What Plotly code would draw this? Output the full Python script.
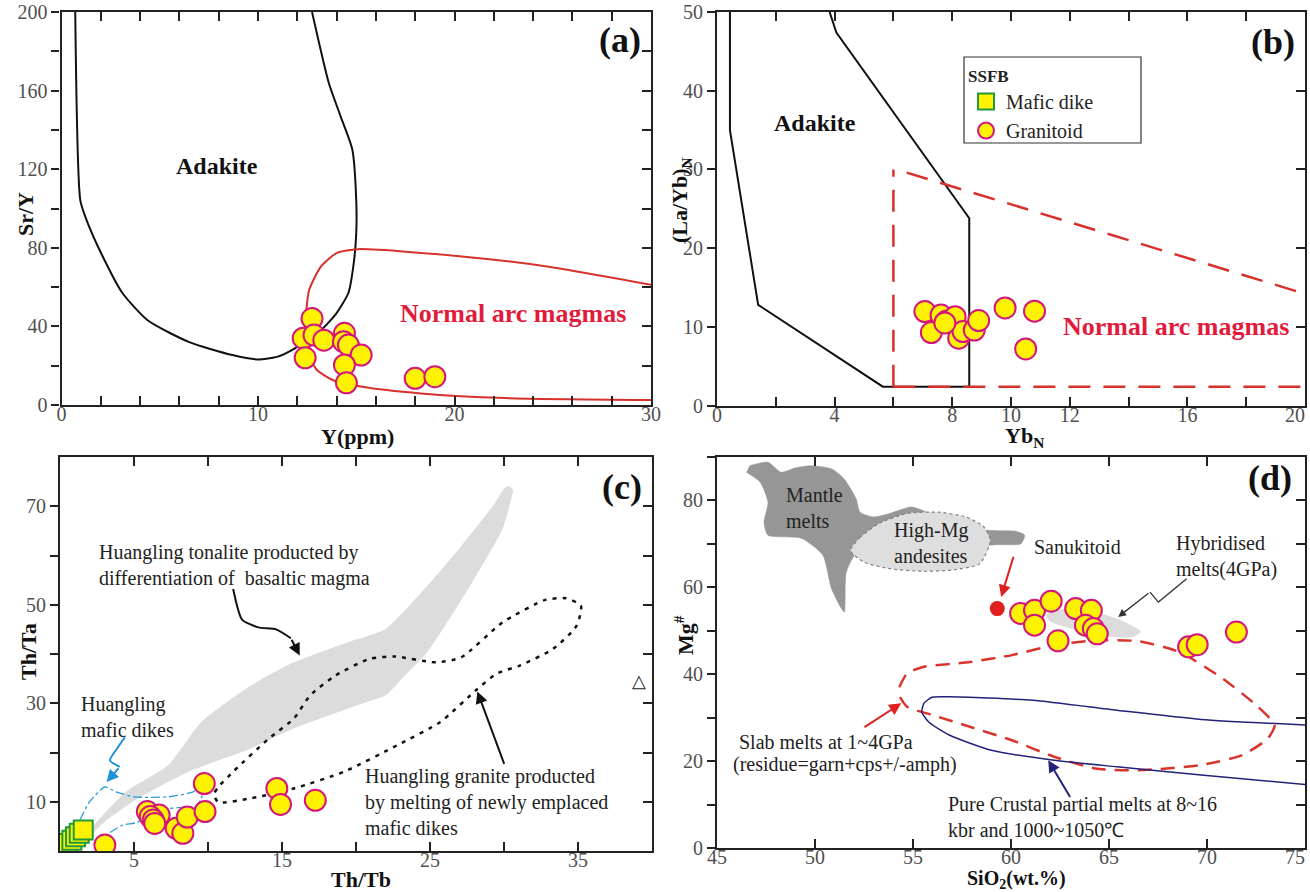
import plotly.graph_objects as go

W, H = 1310, 892
SERIF = "Liberation Serif, Times New Roman, serif"
YELLOW = "#fff200"
MAGENTA = "#d4157d"
GREEN = "#1e9a3c"
RED = "#d8302a"
CRIMSON = "#e21b3c"
TXT = "#222222"

# ---------------- Panel (a): Sr/Y vs Y ----------------
A_ADAKITE_X = [0.7, 0.96, 1.28, 2.03, 3.1, 4.4, 6.5, 8.7, 10.0, 11.0, 11.9, 13.2, 14.0, 14.6, 14.85, 15.0, 15.0, 14.8, 14.2, 13.6, 12.75]
A_ADAKITE_Y = [200, 104, 94, 77, 57, 43, 32, 25.4, 23.2, 24.6, 29, 38, 46.8, 57, 70.4, 87.5, 104, 130, 147, 164, 200]
A_ARC_X = [30.5, 24.8, 20.5, 15.1, 14.0, 13.2, 12.6, 12.45, 12.4, 12.6, 13.0, 13.8, 15.3, 18.3, 22.6, 30.5]
A_ARC_Y = [60.3, 70.4, 75.5, 79.3, 77.3, 70.4, 58.5, 46.8, 35, 25, 17.8, 12.7, 9.3, 5.9, 3.5, 2.5]
A_GR_X = [12.75, 12.3, 12.85, 13.35, 12.4, 14.4, 14.35, 14.6, 15.25, 14.4, 14.5, 18.0, 19.0]
A_GR_Y = [44, 34, 35.6, 33, 24, 36.5, 32.2, 30.5, 25.4, 20.4, 11.3, 13.6, 14.4]
A_XTICKS = list(range(0, 31, 2))
A_XLABELS = [0, 10, 20, 30]
A_YTICKS = list(range(0, 201, 20))
A_YLABELS = [0, 40, 80, 120, 160, 200]

# ---------------- Panel (b): (La/Yb)N vs YbN ----------------
B_ADAKITE_X = [0.44, 0.44, 1.4, 5.64, 8.58, 8.58, 4.06, 3.83]
B_ADAKITE_Y = [50, 35, 12.8, 2.4, 2.4, 23.8, 47.4, 50]
B_ARC_X = [6.0, 6.0, None, 6.45, 20.0, None, 6.0, 20.0]
B_ARC_Y = [2.4, 30.0, None, 29.6, 14.2, None, 2.4, 2.4]
B_GR_X = [7.07, 7.29, 7.62, 7.8, 8.1, 8.24, 8.22, 8.37, 8.75, 8.9, 9.8, 10.8, 10.5, 7.75]
B_GR_Y = [11.95, 9.28, 11.5, 10.7, 11.3, 9.2, 8.56, 9.4, 9.6, 10.8, 12.4, 12.0, 7.2, 10.5]
B_XTICKS = list(range(0, 21, 2))
B_XLABELS = [0, 4, 8, 10, 12, 16, 20]
B_YTICKS = list(range(0, 51, 10))
B_YLABELS = [0, 10, 20, 30, 40, 50]

# ---------------- Panel (c): Th/Ta vs Th/Tb ----------------
C_TON_X = [1.47, 4.45, 7.3, 9.55, 12.9, 15.8, 19.45, 22.0, 24.8, 27.1, 29.4, 29.95, 30.3, 30.6, 30.4, 29.9, 27.7, 24.8, 23.1, 22.0, 20.0, 15.8, 12.9, 8.7, 5.3, 3.0, 1.9]
C_TON_Y = [2.6, 12.0, 17.4, 26.2, 33.6, 38.3, 42.4, 45.1, 53.8, 61.9, 70.7, 73.4, 74.1, 73.4, 70.5, 65.4, 53.8, 40.3, 35.0, 31.6, 29.5, 24.9, 20.8, 16.1, 10.7, 5.9, 2.6]
C_GRANITE_X = [10.7, 11.8, 14.1, 15.8, 16.9, 18.6, 20.9, 22.6, 25.4, 27.1, 29.9, 32.8, 34.2, 35.2, 34.9, 33.3, 31.1, 29.5, 28.2, 25.7, 22.8, 19.2, 15.8, 12.9, 10.7, 10.4, 10.7]
C_GRANITE_Y = [13.0, 16.4, 22.8, 26.9, 31.6, 35.6, 39.0, 39.5, 38.3, 39.3, 46.4, 51.0, 51.3, 49.8, 45.7, 41.0, 37.7, 36.0, 32.9, 26.2, 21.5, 16.1, 12.7, 10.7, 9.9, 11.5, 13.0]
C_DIKEFIELD_X = [1.35, 2.0, 3.03, 3.8, 5.0, 7.3, 9.0, 9.6, 9.75, 9.5, 9.2, 8.0, 7.0, 6.0, 5.2, 4.2, 3.1, 2.7]
C_DIKEFIELD_Y = [6.3, 10.0, 13.0, 12.0, 11.0, 11.0, 12.0, 13.5, 12.5, 10.5, 9.0, 8.8, 8.5, 7.5, 5.8, 5.2, 3.2, 2.2]
C_BLUE_ARROW_X = [4.38, 3.9, 3.37, 4.04]
C_BLUE_ARROW_Y = [23.1, 21.0, 18.4, 17.1]
C_BLACK_ARROW_X = [11.7, 12.3, 13.4, 14.6, 15.6]
C_BLACK_ARROW_Y = [53.2, 47.0, 45.4, 45.0, 43.2]
C_DIKE_X = [0.22, 0.5, 0.8, 1.05, 1.3, 1.57]
C_DIKE_Y = [0.9, 1.5, 2.2, 2.9, 3.6, 4.25]
C_GR_X = [3.03, 5.9, 6.7, 6.1, 6.3, 6.4, 7.85, 8.3, 8.6, 9.75, 9.8, 14.65, 14.9, 17.25]
C_GR_Y = [1.2, 8.0, 7.3, 7.0, 6.3, 5.6, 4.6, 3.6, 6.9, 13.7, 8.0, 12.7, 9.45, 10.3]
C_XTICKS = list(range(5, 40, 5))
C_XLABELS = [5, 15, 25, 35]
C_YTICKS = list(range(10, 80, 10))
C_YLABELS = [10, 30, 50, 70]

# ---------------- Panel (d): Mg# vs SiO2 ----------------
D_MANTLE_X = [46.66, 47.6, 48.27, 49.0, 49.77, 50.84, 51.48, 52.1, 52.3, 53.0, 53.8, 54.9, 55.6, 56.5, 59.0, 60.26, 60.7, 60.5, 59.2, 56.0, 52.3, 51.6, 51.5, 51.3, 50.84, 50.4, 49.3, 47.6, 47.4, 47.6, 47.2, 46.5]
D_MANTLE_Y = [88.0, 88.8, 86.5, 87.5, 88.0, 87.3, 85.0, 80.4, 77.3, 76.2, 77.0, 78.5, 77.5, 74.0, 73.1, 72.9, 72.0, 70.0, 69.8, 68.0, 68.9, 63.5, 54.3, 55.5, 59.7, 67.4, 71.3, 72.0, 75.0, 79.6, 84.2, 86.5]
D_HMA_X = [51.8, 52.3, 53.3, 54.7, 56.3, 57.7, 58.6, 58.95, 58.4, 57.0, 55.5, 53.8, 52.5, 51.8]
D_HMA_Y = [68.5, 71.5, 74.8, 77.0, 77.3, 76.2, 74.0, 70.8, 65.4, 64.0, 63.7, 64.3, 65.8, 68.5]
D_HYB_X = [61.8, 62.6, 64.0, 65.6, 66.6, 66.2, 64.8, 63.0, 62.0, 61.8]
D_HYB_Y = [53.5, 55.0, 54.6, 52.4, 49.8, 48.6, 48.8, 50.6, 52.2, 53.5]
D_SLAB_X = [54.3, 54.7, 55.56, 57.9, 60.05, 62.2, 64.34, 66.5, 68.6, 70.8, 72.5, 73.45, 73.1, 71.8, 69.7, 66.5, 64.3, 62.2, 60.05, 57.9, 56.0, 54.7, 54.3]
D_SLAB_Y = [37.0, 40.2, 41.7, 42.8, 44.4, 46.7, 47.8, 47.6, 45.1, 39.0, 32.9, 28.3, 25.2, 21.4, 19.1, 17.9, 18.3, 21.0, 24.8, 27.9, 30.6, 32.5, 35.0]
D_CRUST_X = [75.5, 69.7, 65.4, 61.1, 56.85, 55.97, 55.56, 55.45, 55.8, 56.85, 59.0, 62.2, 65.4, 69.7, 75.5]
D_CRUST_Y = [28.2, 29.6, 31.7, 34.0, 34.8, 34.7, 33.3, 31.3, 29.0, 26.0, 22.5, 20.2, 18.7, 16.8, 14.4]
D_SANUK_X = [59.3]
D_SANUK_Y = [55.1]
D_SQUIG_X = [68.96, 67.52, 67.09]
D_SQUIG_Y = [62.0, 56.6, 58.9]
D_GR_X = [60.49, 61.2, 61.2, 62.05, 62.4, 63.3, 64.1, 63.8, 64.2, 64.4, 69.06, 69.5, 71.5]
D_GR_Y = [54.0, 54.7, 51.3, 56.8, 47.7, 55.1, 54.7, 51.3, 50.5, 49.3, 46.3, 46.8, 49.7]
D_XTICKS = list(range(45, 76, 5))
D_XLABELS = D_XTICKS
D_YTICKS = list(range(0, 91, 10))
D_YLABELS = [0, 20, 40, 60, 80]


def px_x(p):
    return p / W


def px_y(p):
    return 1 - p / H


DOM = {
    1: ([px_x(61.5), px_x(651)], [px_y(405), px_y(12)], [0, 30], [0, 200]),
    2: ([px_x(717), px_x(1305)], [px_y(405.6), px_y(12)], [0, 20], [0, 50]),
    3: ([px_x(60), px_x(652)], [px_y(851), px_y(457)], [0, 40], [0, 80]),
    4: ([px_x(717), px_x(1305)], [px_y(848), px_y(457)], [45, 75], [0, 90]),
}

TICKFONT = dict(family=SERIF, size=20, color="#505050")

TICKS = {
    1: (A_XTICKS, A_XLABELS, A_YTICKS, A_YLABELS),
    2: (B_XTICKS, B_XLABELS, B_YTICKS, B_YLABELS),
    3: (C_XTICKS, C_XLABELS, C_YTICKS, C_YLABELS),
    4: (D_XTICKS, D_XLABELS, D_YTICKS, D_YLABELS),
}

fig = go.Figure()


def ax(n):
    return ("x" if n == 1 else f"x{n}"), ("y" if n == 1 else f"y{n}")


def line(n, x, y, color, width=2, dash=None, fill=None, fillcolor=None, shape="spline"):
    xa, ya = ax(n)
    fig.add_trace(go.Scatter(x=x, y=y, xaxis=xa, yaxis=ya, mode="lines",
                             line=dict(color=color, width=width, dash=dash, shape=shape, smoothing=0.6),
                             fill=fill, fillcolor=fillcolor, showlegend=False, hoverinfo="skip"))


def granitoid(n, x, y, show=False):
    xa, ya = ax(n)
    fig.add_trace(go.Scatter(x=x, y=y, xaxis=xa, yaxis=ya, mode="markers", name="Granitoid",
                             marker=dict(symbol="circle", size=21, color=YELLOW,
                                         line=dict(color=MAGENTA, width=2)),
                             showlegend=show, legendrank=2))


# (a)
line(1, A_ADAKITE_X, A_ADAKITE_Y, "#111111", 2)
line(1, A_ARC_X, A_ARC_Y, RED, 2)
granitoid(1, A_GR_X, A_GR_Y)

# (b)
line(2, B_ADAKITE_X, B_ADAKITE_Y, "#111111", 2, shape="linear")
line(2, B_ARC_X, B_ARC_Y, RED, 2.5, dash="22px,13px", shape="linear")
granitoid(2, B_GR_X, B_GR_Y)

# (c)
line(3, C_TON_X, C_TON_Y, "rgba(0,0,0,0)", 0, fill="toself", fillcolor="#dcdcdc")
line(3, C_GRANITE_X, C_GRANITE_Y, "#111111", 2.5, dash="4px,6px")
line(3, C_DIKEFIELD_X, C_DIKEFIELD_Y, "#2b9bd8", 1.3, dash="dashdot")
line(3, C_BLUE_ARROW_X, C_BLUE_ARROW_Y, "#1e90d8", 2)
line(3, C_BLACK_ARROW_X, C_BLACK_ARROW_Y, "#111111", 2)
fig.add_trace(go.Scatter(x=C_DIKE_X, y=C_DIKE_Y, xaxis="x3", yaxis="y3", mode="markers", name="Mafic dike",
                         marker=dict(symbol="square", size=19, color=YELLOW, line=dict(color=GREEN, width=2)),
                         showlegend=True, legendrank=1))
granitoid(3, C_GR_X, C_GR_Y, show=True)

# (d)
line(4, D_MANTLE_X, D_MANTLE_Y, "#969696", 0.5, fill="toself", fillcolor="#969696")
line(4, D_HMA_X, D_HMA_Y, "#808080", 1.2, dash="dot", fill="toself", fillcolor="#dedede")
line(4, D_HYB_X, D_HYB_Y, "#dcdcdc", 0.5, fill="toself", fillcolor="#dcdcdc")
line(4, D_SLAB_X, D_SLAB_Y, "#d9342c", 2.5, dash="14px,9px")
line(4, D_CRUST_X, D_CRUST_Y, "#22227a", 1.5)
line(4, D_SQUIG_X, D_SQUIG_Y, "#333333", 1.3, shape="linear")
fig.add_trace(go.Scatter(x=D_SANUK_X, y=D_SANUK_Y, xaxis="x4", yaxis="y4", mode="markers",
                         marker=dict(size=15, color="#e0201e"), showlegend=False))
granitoid(4, D_GR_X, D_GR_Y)

# dummy traces for the right-side tick axes
for n in range(1, 5):
    xa, _ = ax(n)
    fig.add_trace(go.Scatter(x=[None], y=[None], xaxis=xa, yaxis=f"y{n + 4}", showlegend=False, hoverinfo="skip"))


def xlabel_text(vals, right_edge):
    # last label sits at the figure edge: pad it so it stays inside the page
    out = [str(v) for v in vals]
    if right_edge:
        out[-1] = out[-1] + "\u2002\u2002"
    return out


layout = dict(width=W, height=H, margin=dict(l=0, r=0, t=0, b=0), paper_bgcolor="white",
              plot_bgcolor="white", font=dict(family=SERIF, color=TXT))
for n in range(1, 5):
    xd, yd, xr, yr = DOM[n]
    xt, xl, yt, yl = TICKS[n]
    xa, ya = ax(n)
    xkey = "xaxis" if n == 1 else f"xaxis{n}"
    ykey = "yaxis" if n == 1 else f"yaxis{n}"
    layout[xkey] = dict(domain=xd, range=xr, anchor=ya, tickmode="array", tickvals=xl,
                        ticktext=xlabel_text(xl, n in (2, 4)),
                        ticks="inside", ticklen=9, tickwidth=1.5, tickcolor="#222", showline=True,
                        linecolor="#222", linewidth=2.2, mirror="ticks", showgrid=False, zeroline=False,
                        minor=dict(tickmode="array", tickvals=xt, ticks="inside", ticklen=9, tickwidth=1.5,
                                   tickcolor="#222", showgrid=False),
                        ticklabelstandoff=-10, ticklabeloverflow="allow",
                        tickfont=TICKFONT, automargin=False, fixedrange=True)
    layout[ykey] = dict(domain=yd, range=yr, anchor=xa, tickmode="array", tickvals=yl,
                        ticktext=[str(v) for v in yl],
                        ticks="outside", ticklen=8, tickwidth=1.5, tickcolor="#222", showline=True,
                        linecolor="#222", linewidth=2.2, mirror=True, showgrid=False, zeroline=False,
                        minor=dict(tickmode="array", tickvals=yt, ticks="outside", ticklen=8, tickwidth=1.5,
                                   tickcolor="#222", showgrid=False),
                        ticklabeloverflow="allow",
                        tickfont=TICKFONT, automargin=False, fixedrange=True)
    layout[f"yaxis{n + 4}"] = dict(overlaying=ya, side="right", anchor=xa, range=yr, tickmode="array",
                                   tickvals=yt, ticks="inside", ticklen=9, tickwidth=1.5, tickcolor="#222",
                                   showticklabels=False, showline=False, showgrid=False, zeroline=False,
                                   automargin=False, fixedrange=True)

ann = []


def txt(n, x, y, text, size=20, color=TXT, bold=False, xanchor="center", yanchor="middle"):
    xa, ya = ax(n)
    ann.append(dict(x=x, y=y, xref=xa, yref=ya, text=text, showarrow=False, xanchor=xanchor,
                    yanchor=yanchor, align="left",
                    font=dict(family=SERIF, size=size, color=color, weight="bold" if bold else "normal")))


def ptxt(px, py, text, size=22, angle=0, bold=True):
    ann.append(dict(x=px_x(px), y=px_y(py), xref="paper", yref="paper", text=text, showarrow=False,
                    textangle=angle, xanchor="center", yanchor="middle",
                    font=dict(family=SERIF, size=size, color="#111", weight="bold" if bold else "normal")))


def arrow(n, tail, tip, color, width=1.8, head=2, size=1.2):
    xa, ya = ax(n)
    ann.append(dict(x=tip[0], y=tip[1], ax=tail[0], ay=tail[1], xref=xa, yref=ya, axref=xa, ayref=ya,
                    text="", showarrow=True, arrowhead=head, arrowsize=size, arrowwidth=width,
                    arrowcolor=color))


# panel labels
ptxt(620, 40, "(a)", 36)
ptxt(1273, 42, "(b)", 36)
ptxt(622, 487, "(c)", 36)
ptxt(1270, 478, "(d)", 36)

# axis titles
ptxt(357, 436, "Y(ppm)", 22)
ptxt(25, 214, "Sr/Y", 22, angle=-90)
ptxt(1024, 437, "Yb<sub>N</sub>", 22)
ptxt(681, 200, "(La/Yb)<sub>N</sub>", 22, angle=-90)
ptxt(361, 879, "Th/Tb", 22)
ptxt(28, 652, "Th/Ta", 22, angle=-90)
ptxt(1016, 879, "SiO<sub>2</sub>(wt.%)", 20)
ptxt(684, 635, "Mg<sup>#</sup>", 22, angle=-90)

# (a) texts
txt(1, 7.9, 121.8, "Adakite", 24, "#111", True)
txt(1, 23.0, 46.7, "Normal arc magmas", 26, CRIMSON, True)
# (b) texts
txt(2, 3.34, 35.9, "Adakite", 24, "#111", True)
txt(2, 15.6, 10.0, "Normal arc magmas", 26, CRIMSON, True)
# (c) texts
txt(3, 2.5, 58.0, "Huangling tonalite producted by<br>differentiation of&nbsp; basaltic magma", 20, xanchor="left")
txt(3, 1.28, 27.3, "Huangling<br>mafic dikes", 20, xanchor="left")
txt(3, 20.5, 9.9, "Huangling granite producted<br>by melting of newly emplaced<br>mafic dikes", 20, xanchor="left")
txt(3, 39.1, 34.6, "△", 18, "#222")
arrow(3, (C_BLUE_ARROW_X[-1], C_BLUE_ARROW_Y[-1]), (3.15, 14.0), "#1e90d8", 2)
arrow(3, (C_BLACK_ARROW_X[-1], C_BLACK_ARROW_Y[-1]), (16.2, 39.7), "#111", 2)
arrow(3, (30.05, 17.4), (28.2, 32.4), "#111", 2)
# (d) texts
txt(4, 48.4, 78.2, "Mantle<br>melts", 20, xanchor="left")
txt(4, 55.9, 70.2, "High-Mg<br>andesites", 20)
txt(4, 63.4, 69.3, "Sanukitoid", 20)
txt(4, 68.3, 67.0, "Hybridised<br>melts(4GPa)", 20, xanchor="left")
txt(4, 46.0, 24.4, "Slab melts at 1~4GPa", 20, xanchor="left")
txt(4, 45.7, 19.2, "(residue=garn+cps+/-amph)", 20, xanchor="left")
txt(4, 56.7, 7.05, "Pure Crustal partial melts at 8~16<br>kbr and 1000~1050℃", 20, xanchor="left")
arrow(4, (60.15, 67.4), (59.5, 57.8), "#e0201e", 2)
arrow(4, (52.45, 27.6), (54.4, 33.3), "#e0201e", 2)
arrow(4, (63.06, 11.4), (61.9, 20.2), "#22227a", 2)
arrow(4, (D_SQUIG_X[-1], D_SQUIG_Y[-1]), (65.47, 53.2), "#333", 1.3)

layout["annotations"] = ann
layout["shapes"] = [dict(type="rect", xref="paper", yref="paper", x0=px_x(964), x1=px_x(1141),
                         y0=px_y(143), y1=px_y(57), line=dict(color="#333", width=1.2))]
layout["legend"] = dict(x=px_x(966), y=px_y(60), xanchor="left", yanchor="top", bgcolor="rgba(0,0,0,0)",
                        borderwidth=0, font=dict(family=SERIF, size=20, color=TXT), itemwidth=30,
                        tracegroupgap=0,
                        title=dict(text="SSFB", font=dict(family=SERIF, size=17, color=TXT, weight="bold")))
layout["showlegend"] = True
fig.update_layout(**layout)
fig.write_html("out.html")
